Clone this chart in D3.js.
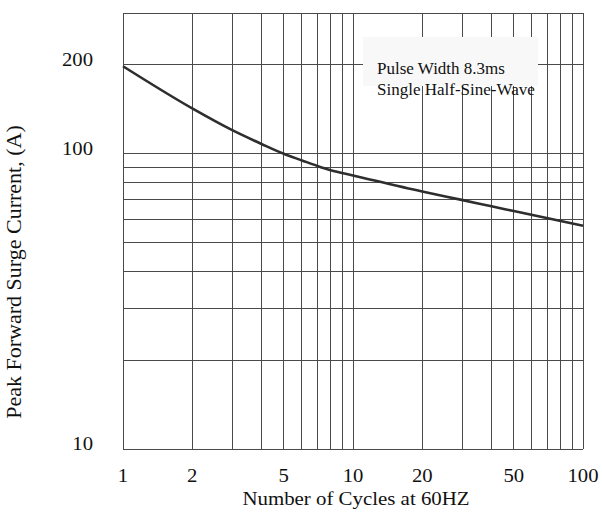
<!DOCTYPE html>
<html>
<head>
<meta charset="utf-8">
<script src="https://cdn.jsdelivr.net/npm/d3@7/dist/d3.min.js"></script>
<style>
  html, body { margin: 0; padding: 0; background: #fff; }
  svg { display: block; }
  text { font-family: "Liberation Serif", "Times New Roman", Times, serif; fill: #111; }
</style>
</head>
<body>
<svg id="chart" width="602" height="521"></svg>
<script>
// ---- data ----
const cycles  = [1, 2, 3, 4, 5, 6, 7, 8, 10, 20, 30, 40, 50, 100];
const current = [198, 142.5, 120, 108, 100, 95, 91, 88, 84.5, 74.5, 69.7, 66.4, 64.0, 57.1];

const xTickValues = [1, 2, 5, 10, 20, 50, 100];
const xTickLabels = ["1", "2", "5", "10", "20", "50", "100"];
const yTickValues = [10, 100, 200];
const yTickLabels = ["10", "100", "200"];

const xGridValues = [1, 2, 3, 4, 5, 6, 7, 8, 9, 10, 20, 30, 40, 50, 60, 70, 80, 90, 100];
const yGridValues = [10, 20, 30, 40, 50, 60, 70, 80, 90, 100, 200, 300];

const xTitle = "Number of Cycles at 60HZ";
const yTitle = "Peak Forward Surge Current, (A)";
const noteLines = ["Pulse Width 8.3ms", "Single Half-Sine-Wave"];

// ---- layout ----
const svg = d3.select("#chart");
const plotLeft = 123, plotRight = 583, plotTop = 13, plotBottom = 449;

const x = d3.scaleLog().domain([1, 100]).range([plotLeft, plotRight]);
const y = d3.scaleLog().domain([10, 300]).range([plotBottom, plotTop]);

const gridColor = "#4a4a4a";

// grid
svg.append("g").selectAll("line").data(xGridValues).join("line")
  .attr("x1", d => x(d)).attr("x2", d => x(d))
  .attr("y1", plotTop).attr("y2", plotBottom)
  .attr("stroke", gridColor).attr("stroke-width", 1).attr("shape-rendering", "crispEdges");

svg.append("g").selectAll("line").data(yGridValues).join("line")
  .attr("y1", d => y(d)).attr("y2", d => y(d))
  .attr("x1", plotLeft).attr("x2", plotRight)
  .attr("stroke", gridColor).attr("stroke-width", 1).attr("shape-rendering", "crispEdges");

// note box (covers grid)
const note = svg.append("g");
note.append("rect")
  .attr("x", 363).attr("y", 37).attr("width", 175).attr("height", 49)
  .attr("fill", "#f8f8f8");
note.selectAll("text").data(noteLines).join("text")
  .attr("x", 377).attr("y", (d, i) => 74 + i * 21)
  .attr("font-size", 17)
  .text(d => d);

// curve
const pts = cycles.map((c, i) => [c, current[i]]);
const line = d3.line()
  .x(d => x(d[0])).y(d => y(d[1]))
  .curve(d3.curveMonotoneX);
svg.append("path")
  .datum(pts)
  .attr("d", line)
  .attr("fill", "none")
  .attr("stroke", "#2e2e2e")
  .attr("stroke-width", 2.6)
  .attr("stroke-linejoin", "round");

// x tick labels
svg.append("g").selectAll("text").data(xTickValues).join("text")
  .attr("transform", d => `translate(${x(d)},482) scale(1.12,1)`)
  .attr("text-anchor", "middle")
  .attr("font-size", 18.5)
  .text((d, i) => xTickLabels[i]);

// y tick labels
svg.append("g").selectAll("text").data(yTickValues).join("text")
  .attr("transform", d => `translate(93,${y(d) + 1}) scale(1.12,1)`)
  .attr("text-anchor", "end")
  .attr("font-size", 18.5)
  .text((d, i) => yTickLabels[i]);

// axis titles
svg.append("text")
  .attr("transform", `translate(${(plotLeft + plotRight) / 2 + 3},505) scale(1.16,1)`)
  .attr("text-anchor", "middle")
  .attr("font-size", 18)
  .text(xTitle);

svg.append("text")
  .attr("transform", `translate(21,272) rotate(-90)`)
  .attr("text-anchor", "middle")
  .attr("font-size", 22)
  .text(yTitle);
</script>
</body>
</html>
